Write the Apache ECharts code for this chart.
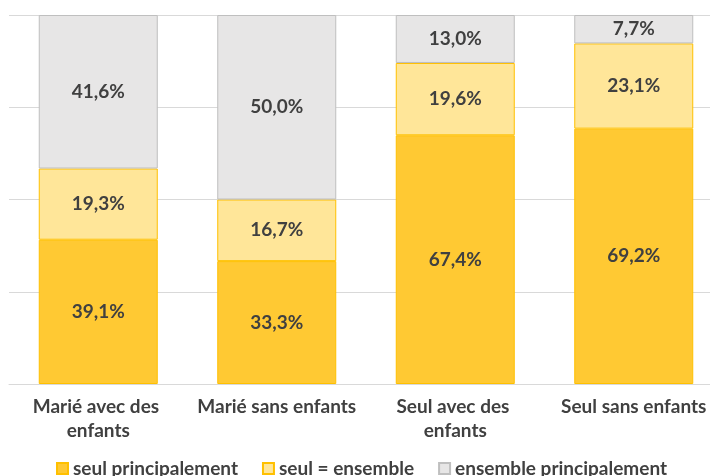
<!DOCTYPE html>
<html lang="fr">
<head>
  <meta charset="UTF-8">
  <title>Répartition</title>
  <script src="https://cdn.jsdelivr.net/npm/echarts@6/dist/echarts.min.js"></script>
  <style>
    html, body { margin: 0; padding: 0; background: #fff; overflow: hidden; }
  </style>
</head>
<body>
  <!-- chart is a bit wider than the window: the reference is cropped on the right -->
  <div id="main" style="width: 725px; height: 476px;"></div>

  <script>
    // data
    const categories = ['Marié avec des enfants', 'Marié sans enfants', 'Seul avec des enfants', 'Seul sans enfants'];
    const seulPrincipalement = [39.1, 33.3, 67.4, 69.2];
    const seulEnsemble = [19.3, 16.7, 19.6, 23.1];
    const ensemblePrincipalement = [41.6, 50.0, 13.0, 7.7];
    const seriesNames = ['seul principalement', 'seul = ensemble', 'ensemble principalement'];

    const font = 'Lato, "Open Sans", sans-serif';
    const textColor = '#404040';

    let myChart = echarts.init(document.getElementById('main'));

    function pct(p) {
      return p.value.toFixed(1).replace('.', ',') + '%';
    }

    function makeSeries(name, data, fill, border) {
      return {
        name: name,
        type: 'bar',
        stack: 'total',
        barWidth: 119,
        data: data,
        itemStyle: { color: fill, borderColor: border, borderWidth: 1 },
        label: {
          show: true,
          position: 'inside',
          formatter: pct,
          color: textColor,
          fontFamily: font,
          fontWeight: 'bold',
          fontSize: 19
        }
      };
    }

    const options = {
      animation: false,
      grid: { left: 9, right: 2, top: 15, bottom: 92 },
      legend: {
        left: 51,
        top: 454,
        itemWidth: 11,
        itemHeight: 11,
        itemGap: 24,
        icon: 'rect',
        textStyle: { color: textColor, fontFamily: font, fontWeight: 'bold', fontSize: 19 }
      },
      xAxis: {
        type: 'category',
        data: categories,
        axisTick: { show: false },
        axisLine: { lineStyle: { color: '#D9D9D9', width: 1 } },
        axisLabel: {
          color: textColor,
          fontFamily: font,
          fontWeight: 'bold',
          fontSize: 19,
          lineHeight: 24,
          margin: 11,
          width: 170,
          overflow: 'break',
          interval: 0
        }
      },
      yAxis: {
        type: 'value',
        min: 0,
        max: 100,
        interval: 25,
        axisLabel: { show: false },
        axisLine: { show: false },
        axisTick: { show: false },
        splitLine: { lineStyle: { color: '#D9D9D9', width: 1 } }
      },
      series: [
        makeSeries(seriesNames[0], seulPrincipalement, '#FFC933', '#FFC000'),
        makeSeries(seriesNames[1], seulEnsemble, '#FFE699', '#FFC000'),
        makeSeries(seriesNames[2], ensemblePrincipalement, '#E7E6E6', '#BFBFBF')
      ]
    };

    myChart.setOption(options);
  </script>
</body>
</html>
